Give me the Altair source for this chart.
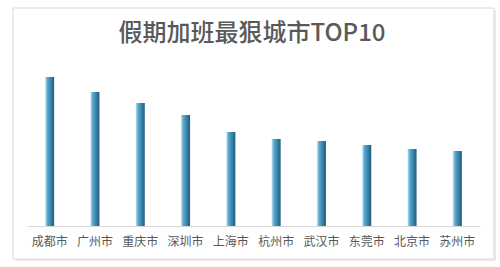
import altair as alt
import pandas as pd

cities = ["成都市", "广州市", "重庆市", "深圳市", "上海市", "杭州市", "武汉市", "东莞市", "北京市", "苏州市"]
values = [149, 134, 123, 111, 94, 87, 85, 81, 77, 75]
title_text = "假期加班最狠城市TOP10"

df = pd.DataFrame({"city": cities, "value": values})
one = pd.DataFrame({"t": [title_text]})

FONT = "Noto Sans CJK SC"

grad = alt.Gradient(
    gradient="linear",
    x1=0, x2=1, y1=0, y2=0,
    stops=[
        alt.GradientStop(color="#bfe4f4", offset=0),
        alt.GradientStop(color="#5aa9cf", offset=0.25),
        alt.GradientStop(color="#3b86ae", offset=0.6),
        alt.GradientStop(color="#1f5c7c", offset=1),
    ],
)

deco = alt.Chart(one)

shadow = deco.mark_rect(fill="#ececec", clip=False).encode(
    x=alt.value(-12), x2=alt.value(469), y=alt.value(-46), y2=alt.value(205)
)
border = deco.mark_rect(fill="white", stroke="#d9d9d9", strokeWidth=1, clip=False).encode(
    x=alt.value(-14), x2=alt.value(467), y=alt.value(-48), y2=alt.value(203)
)

title = deco.mark_text(fontSize=24, color="#595959", font=FONT, fontWeight=500,
                       baseline="middle", align="center", clip=False).encode(
    x=alt.value(225), y=alt.value(-22), text="t:N"
)

bars = alt.Chart(df).mark_bar(size=9, color=grad).encode(
    x=alt.X("city:N", sort=cities, title=None,
            axis=alt.Axis(labelAngle=0, labelFontSize=12, labelColor="#595959", labelFont=FONT,
                          labelPadding=10, ticks=False, domainColor="#d9d9d9", domainWidth=1,
                          grid=False, zindex=1)),
    y=alt.Y("value:Q", scale=alt.Scale(domain=[0, 170]), axis=None),
)

chart = alt.layer(shadow, border, title, bars).properties(
    width=453, height=170,
    autosize=alt.AutoSizeParams(type="none"),
    padding={"left": 27, "top": 56, "right": 20, "bottom": 41},
).configure_view(stroke=None).configure(background="white")

chart.save("out.html", embed_options={"renderer": "svg", "actions": False})
